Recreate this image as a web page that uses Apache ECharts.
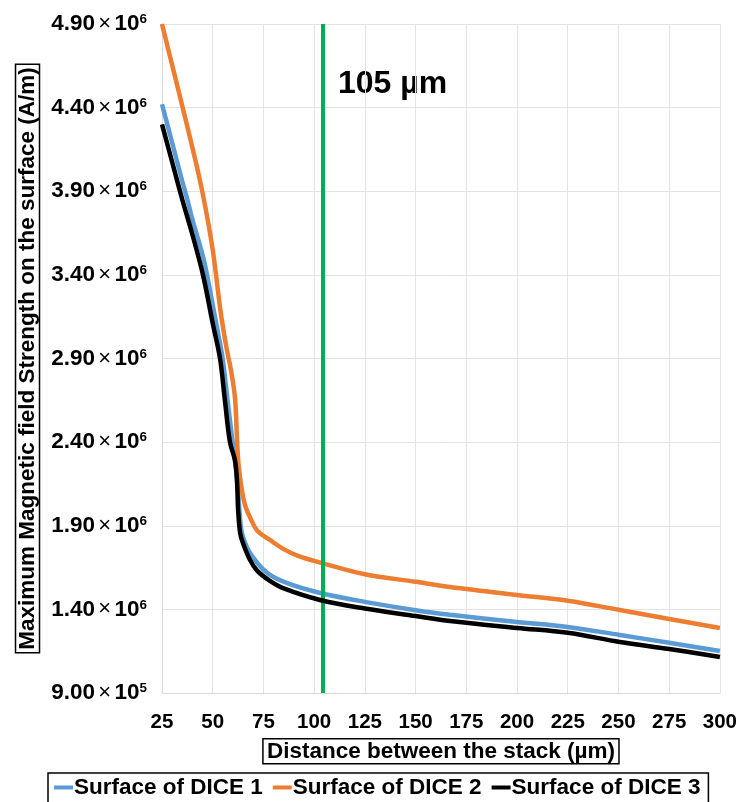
<!DOCTYPE html>
<html>
<head>
<meta charset="utf-8">
<script src="https://cdn.jsdelivr.net/npm/echarts@6/dist/echarts.min.js"></script>
<style>
  html, body { margin: 0; padding: 0; background: #fff; }
  #chart { width: 740px; height: 802px; }
</style>
</head>
<body>
<div id="chart"></div>
<script>
// tick values for the x axis (µm)
const xTicks = [25, 50, 75, 100, 125, 150, 175, 200, 225, 250, 275, 300];
const markerX = 104;

// values in A/m
const dice1X = [25, 30, 35, 37.5, 40, 45, 47.2, 50, 52.5, 54.9, 57.5, 59.8, 62, 63.8, 65, 68.4, 76.6, 86.4, 103, 125, 150, 167, 200, 225, 250.7, 275, 300];
const dice1Y = [4.42e6, 4.19e6, 3.96e6, 3.85e6, 3.73e6, 3.52e6, 3.40e6, 3.22e6, 3.06e6, 2.90e6, 2.63e6, 2.40e6, 2.18e6, 1.90e6, 1.83e6, 1.737e6, 1.62e6, 1.558e6, 1.498e6, 1.445e6, 1.395e6, 1.368e6, 1.325e6, 1.295e6, 1.247e6, 1.20e6, 1.151e6];

const dice2X = [25, 30, 35, 40, 45, 50, 54, 57, 59, 61, 62.5, 64.4, 66, 68.4, 72, 78.2, 85, 92, 103, 125, 150, 167, 200, 225, 250.7, 275, 300];
const dice2Y = [4.90e6, 4.655e6, 4.41e6, 4.16e6, 3.89e6, 3.55e6, 3.17e6, 2.95e6, 2.83e6, 2.66e6, 2.30e6, 2.11e6, 2.02e6, 1.95e6, 1.87e6, 1.815e6, 1.76e6, 1.72e6, 1.68e6, 1.61e6, 1.565e6, 1.534e6, 1.486e6, 1.452e6, 1.396e6, 1.342e6, 1.289e6];

const dice3X = [25, 30, 35, 40, 45.2, 50, 53.6, 56, 58.5, 61, 62, 62.5, 63.5, 64.9, 68.4, 72, 78.2, 85, 102.9, 125, 150, 167, 200, 225, 250.7, 275, 300];
const dice3Y = [4.30e6, 4.075e6, 3.85e6, 3.64e6, 3.40e6, 3.11e6, 2.90e6, 2.65e6, 2.40e6, 2.29e6, 2.16e6, 2.00e6, 1.857e6, 1.797e6, 1.695e6, 1.63e6, 1.57e6, 1.525e6, 1.456e6, 1.405e6, 1.36e6, 1.33e6, 1.289e6, 1.26e6, 1.205e6, 1.163e6, 1.115e6];

const seriesNames = ['Surface of DICE 1', 'Surface of DICE 2', 'Surface of DICE 3'];
const seriesColors = ['#5B9BD5', '#ED7D31', '#000000'];

function zip(xs, ys) {
  return xs.map((x, i) => [x, ys[i]]);
}

function sciLabel(v) {
  const e = Math.floor(Math.log10(v) + 1e-9);
  const m = (v / Math.pow(10, e)).toFixed(2);
  return '{m|' + m + '} {x|×} {m|10}{e|' + e + '}';
}

const chart = echarts.init(document.getElementById('chart'));

const dataSets = [zip(dice1X, dice1Y), zip(dice2X, dice2Y), zip(dice3X, dice3Y)];

const series = dataSets.map((d, i) => ({
  name: seriesNames[i],
  type: 'line',
  data: d,
  smooth: 0.35,
  symbol: 'none',
  z: 3 + i,
  lineStyle: { color: seriesColors[i], width: 4.5 },
  itemStyle: { color: seriesColors[i] }
}));

series[0].markLine = {
  silent: true,
  symbol: 'none',
  label: { show: false },
  lineStyle: { color: '#00B050', width: 4, type: 'solid' },
  data: [{ xAxis: markerX }]
};

chart.setOption({
  animation: false,
  backgroundColor: '#fff',
  textStyle: { fontFamily: 'Liberation Sans, Arial, sans-serif' },
  grid: { left: 162, right: 20, top: 24, bottom: 109 },
  legend: {
    data: seriesNames,
    left: 48,
    top: 773,
    icon: 'rect',
    itemWidth: 19,
    itemHeight: 4,
    itemGap: 10,
    padding: [3, 8, 6, 6],
    borderColor: '#000',
    borderWidth: 1.5,
    textStyle: { fontSize: 22.5, fontWeight: 'bold', color: '#000', padding: [0, 0, 0, -4] }
  },
  xAxis: {
    type: 'value',
    min: xTicks[0],
    max: xTicks[xTicks.length - 1],
    interval: 25,
    name: 'Distance between the stack (µm)',
    nameLocation: 'middle',
    nameGap: 41,
    nameTextStyle: {
      fontSize: 22.5, fontWeight: 'bold', color: '#000',
      borderColor: '#000', borderWidth: 1.5, padding: [2, 4, 0, 4]
    },
    axisLine: { lineStyle: { color: '#d9d9d9', width: 1 } },
    axisTick: { show: false },
    axisLabel: { fontSize: 20.5, fontWeight: 'bold', color: '#000', margin: 19 },
    splitLine: { lineStyle: { color: '#e3e3e3', width: 1 } }
  },
  yAxis: {
    type: 'value',
    min: 900000,
    max: 4900000,
    interval: 500000,
    name: 'Maximum Magnetic field Strength on the surface (A/m)',
    nameLocation: 'middle',
    nameGap: 121,
    nameTextStyle: {
      fontSize: 22.5, fontWeight: 'bold', color: '#000',
      borderColor: '#000', borderWidth: 1.5, padding: [1, 3, 0, 3]
    },
    axisLine: { show: true, lineStyle: { color: '#d9d9d9', width: 1 } },
    axisTick: { show: false },
    axisLabel: {
      margin: 15,
      formatter: sciLabel,
      rich: {
        m: { fontSize: 22.5, fontWeight: 'bold', color: '#000' },
        x: { fontSize: 22, color: '#000' },
        e: { fontSize: 13.5, fontWeight: 'bold', color: '#000', verticalAlign: 'top', padding: [0, 0, 9, 0] }
      }
    },
    splitLine: { lineStyle: { color: '#e3e3e3', width: 1 } }
  },
  graphic: [{
    type: 'text',
    left: 338,
    top: 68,
    style: { text: '105 µm', font: 'bold 32px Liberation Sans, Arial, sans-serif', fill: '#000' }
  }],
  series: series
});
</script>
</body>
</html>
